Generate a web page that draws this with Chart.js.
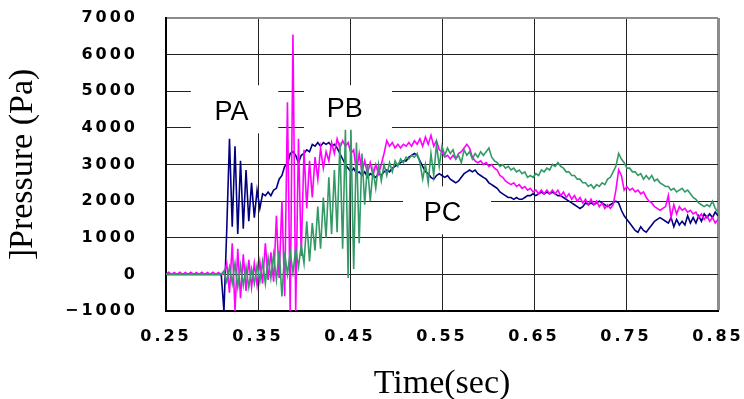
<!DOCTYPE html>
<html>
<head>
<meta charset="utf-8">
<script src="https://cdn.jsdelivr.net/npm/chart.js@4.4.0/dist/chart.umd.min.js"></script>
<style>
  body { margin: 0; background: #fff; }
  #wrap { width: 744px; height: 399px; }
</style>
</head>
<body>
<div id="wrap"><canvas id="chart" width="744" height="399"></canvas></div>
<script>
// sampling of the traces: one value every DT seconds from T0
const T0 = 0.25;
const DT = 0.003;

const xTicks = [0.25, 0.35, 0.45, 0.55, 0.65, 0.75, 0.85];
const yTicks = [-1000, 0, 1000, 2000, 3000, 4000, 5000, 6000, 7000];

const seriesNames = ['PA', 'PB', 'PC'];
const seriesColors = ['#000080', '#ff00ff', '#339966'];

// pressure (Pa)
const PA = [
  0, 0, 0, 0, 0, 0, 0, 0, 0, 0,
  0, 0, 0, 0, 0, 0, 0, 0, 0, 0,
  0, -1000, 1200, 3700, 1300, 3500, 1100, 3100, 1250, 2850,
  1450, 2500, 1550, 2300, 1800, 2200, 2150, 2250, 2150, 2300,
  2350, 2600, 2700, 2950, 3000, 3300, 3350, 3250, 3050, 3250,
  3300, 3400, 3350, 3550, 3500, 3600, 3500, 3600, 3550, 3600,
  3500, 3550, 3450, 3300, 3150, 3000, 2900, 2800, 2900, 2750,
  2800, 2700, 2800, 2650, 2750, 2700, 2650, 2750, 2700, 2800,
  2850, 2800, 2900, 2950, 3000, 3050, 3100, 3100, 3200, 3250,
  3300, 3250, 3100, 2950, 2800, 2750, 2650, 2600, 2700, 2750,
  2700, 2650, 2700, 2600, 2550, 2500, 2550, 2650, 2750, 2800,
  2850, 2800, 2850, 2750, 2700, 2650, 2600, 2500, 2450, 2400,
  2350, 2250, 2200, 2150, 2100, 2100, 2050, 2100, 2050, 2050,
  2100, 2150, 2150, 2200, 2150, 2200, 2250, 2200, 2250, 2200,
  2250, 2200, 2150, 2150, 2100, 2050, 2000, 1950, 1900, 1850,
  1800, 1850, 1950, 1900, 1950, 1900, 1950, 2000, 1950, 1900,
  1850, 1900, 1950, 2000, 1950, 1750, 1600, 1500, 1400, 1300,
  1200, 1150, 1300, 1200, 1150, 1250, 1350, 1450, 1500, 1550,
  1500, 1450, 1400, 1550, 1300, 1500, 1350, 1450, 1350, 1600,
  1400, 1550, 1400, 1600, 1450, 1650, 1550, 1650, 1550, 1700,
  1600
];

const PB = [
  0, 60, 0, 50, 0, 60, 0, 50, 0, 60,
  0, 50, 0, 60, 0, 50, 0, 60, 0, 50,
  0, 0, 300, -500, 850, -1000, 700, -650, 550, -450,
  400, -350, 300, -300, 350, -250, 850, -150, 600, -200,
  1600, -100, 2000, -600, 4700, -1000, 6550, -1000, 3700, 500,
  3400, 1800, 3100, 2100, 3200, 2600, 3450, 2900, 3350, 3100,
  3600, 3300, 3700, 3450, 3650, 3500, 3600, 3300, 3400, 2800,
  3300, 2800, 3100, 2750, 3050, 2700, 3000, 2750, 3000, 3300,
  3650, 3500, 3600, 3450, 3550, 3450, 3550, 3500, 3600, 3500,
  3650, 3550, 3700, 3500, 3750, 3550, 3800, 3500, 3650, 3400,
  3350, 3200, 3250, 3150, 3250, 3150, 3300, 3350, 3450, 3550,
  3450, 3200, 3100, 3050, 3100, 3000, 3050, 2950, 3000, 2900,
  2850, 2700, 2650, 2550, 2500, 2450, 2500, 2400, 2450, 2350,
  2400, 2300, 2350, 2250, 2300, 2200, 2300, 2200, 2300, 2200,
  2300, 2200, 2300, 2150, 2250, 2100, 2200, 2050, 2150, 2000,
  2100, 1950, 2050, 1900, 2050, 1900, 2000, 1850, 1950, 1800,
  1900, 1800, 1900, 2300, 2850, 2700, 2300, 2400, 2300, 2350,
  2250, 2300, 2200, 2250, 2100, 2000, 1950, 1850, 1800, 1750,
  1800, 1850, 2150, 1550, 1900, 1650, 1850, 1750, 1800, 1700,
  1750, 1650, 1700, 1550, 1650, 1500, 1600, 1450, 1550, 1400,
  1500
];

const PC = [
  0, 0, 0, 0, 0, 0, 0, 0, 0, 0,
  0, 0, 0, 0, 0, 0, 0, 0, 0, 0,
  0, 100, -200, 200, -250, 300, -350, 250, -300, 200,
  -350, 150, -250, 250, -200, 350, -250, 450, -100, 550,
  -150, 650, -600, 600, 0, 600, 50, 700, 200, 800,
  300, 1450, 350, 1400, 650, 1850, 700, 2100, 1000, 2650,
  1100, 2850, 1150, 3600, 700, 3950, -100, 3950, 150, 3600,
  850, 3300, 1900, 3000, 2000, 2850, 2350, 3000, 2550, 3000,
  2700, 3050, 2800, 3100, 2950, 3150, 3050, 3200, 3150, 3250,
  3200, 3300, 3050, 2600, 3000, 2500, 3300, 2700, 3550, 2950,
  3500, 3250, 3450, 3300, 3400, 3150, 3250, 3050, 3400, 3250,
  3350, 3150, 3300, 3200, 3350, 3250, 3350, 3450, 3200, 3100,
  3050, 2950, 3000, 2900, 2950, 2850, 2900, 2800, 2850, 2750,
  2800, 2650, 2700, 2650, 2750, 2700, 2850, 2800, 2900, 2850,
  3000, 2950, 3050, 2950, 2900, 2800, 2800, 2700, 2700, 2600,
  2600, 2500, 2500, 2400, 2450, 2350, 2450, 2400, 2500, 2450,
  2600, 2650, 2800, 2950, 3300, 3150, 3050, 2900, 2900, 2800,
  2800, 2700, 2750, 2600, 2700, 2600, 2700, 2550, 2600, 2500,
  2450, 2400, 2400, 2300, 2350, 2250, 2300, 2350, 2250, 2300,
  2200, 2100, 2050, 1950, 1900, 1850, 1900, 1850, 2000, 1800,
  1700
];

// text labels inside the plot, with the white patch behind each (data units)
const plotLabels = [
  { text: 'PA', x: 0.3212, y: 4221, box: [0.277, 0.372, 3852, 5164] },
  { text: 'PB', x: 0.4442, y: 4298, box: [0.400, 0.4957, 3900, 5164] },
  { text: 'PC', x: 0.5505, y: 1456, box: [0.5076, 0.6033, 1093, 2404] }
];

const seriesValues = [PA, PB, PC];
const times = PA.map((_, i) => +(T0 + i * DT).toFixed(3));

const labelPlugin = {
  id: 'plotLabels',
  beforeDraw(chart) {
    chart.ctx.letterSpacing = '0px';
  },
  beforeDatasetsDraw(chart) {
    const { ctx, scales: { x, y } } = chart;
    ctx.save();
    ctx.fillStyle = '#fff';
    plotLabels.forEach(l => {
      const x0 = x.getPixelForValue(l.box[0]);
      const x1 = x.getPixelForValue(l.box[1]);
      const y0 = y.getPixelForValue(l.box[3]);
      const y1 = y.getPixelForValue(l.box[2]);
      ctx.fillRect(x0, y0, x1 - x0, y1 - y0);
    });
    ctx.fillStyle = '#000';
    ctx.font = '27px "Liberation Sans", Arial, sans-serif';
    ctx.textAlign = 'center';
    ctx.textBaseline = 'alphabetic';
    plotLabels.forEach(l => {
      ctx.fillText(l.text, x.getPixelForValue(l.x), y.getPixelForValue(l.y));
    });
    ctx.restore();
  },
  // tick labels are drawn after the datasets (ticks.z = 1), spaced out like the original
  afterDatasetsDraw(chart) {
    chart.ctx.letterSpacing = '3px';
  },
  afterDraw(chart) {
    chart.ctx.letterSpacing = '0px';
  }
};

const tickFont = { family: '"DejaVu Sans", Verdana, sans-serif', size: 16, weight: 'bold' };
const titleFont = { family: '"Liberation Serif", "Times New Roman", serif', size: 34, lineHeight: 0.9 };

new Chart(document.getElementById('chart').getContext('2d'), {
  type: 'line',
  data: {
    datasets: seriesNames.map((name, k) => ({
      label: name,
      data: seriesValues[k].map((v, i) => ({ x: times[i], y: v })),
      borderColor: seriesColors[k],
      borderWidth: 1.6,
      pointRadius: 0,
      tension: 0,
      fill: false,
      order: 3 - k
    }))
  },
  options: {
    responsive: false,
    animation: false,
    layout: { padding: { top: 18, right: 26, left: 0, bottom: 0 } },
    plugins: { legend: { display: false }, tooltip: { enabled: false } },
    scales: {
      x: {
        type: 'linear',
        min: 0.25,
        max: 0.85,
        afterBuildTicks: s => { s.ticks = xTicks.map(v => ({ value: v })); },
        afterFit: s => { s.height = 88; s.paddingLeft = 0; s.paddingRight = 0; },
        ticks: {
          z: 1, padding: 16, color: '#000', font: tickFont,
          maxRotation: 0, autoSkip: false,
          callback: v => Number(v).toFixed(2)
        },
        grid: {
          drawTicks: false,
          color: c => c.tick.value === 0.25 ? 'rgba(0,0,0,0)' : (c.tick.value === 0.85 ? '#8c8c8c' : '#222'),
          lineWidth: c => c.tick.value === 0.85 ? 3 : 1
        },
        border: { color: '#000', width: 2 },
        title: { display: true, text: 'Time(sec)', color: '#000', font: titleFont, padding: 0 }
      },
      y: {
        min: -1000,
        max: 7000,
        afterBuildTicks: s => { s.ticks = yTicks.map(v => ({ value: v })); },
        afterFit: s => { s.width = 166; s.paddingTop = 0; s.paddingBottom = 0; },
        ticks: {
          z: 1, padding: 28, color: '#000', font: tickFont,
          callback: v => v < 0 ? '\u2212' + Math.abs(v) : String(v)
        },
        grid: {
          drawTicks: false,
          color: c => c.tick.value === -1000 ? 'rgba(0,0,0,0)' : (c.tick.value === 7000 ? '#8c8c8c' : '#222'),
          lineWidth: c => c.tick.value === 7000 ? 2 : 1
        },
        border: { color: '#000', width: 2 },
        title: { display: true, text: ']Pressure (Pa)', color: '#000', font: titleFont, padding: { top: 8, bottom: 0 } }
      }
    }
  },
  plugins: [labelPlugin]
});
</script>
</body>
</html>
